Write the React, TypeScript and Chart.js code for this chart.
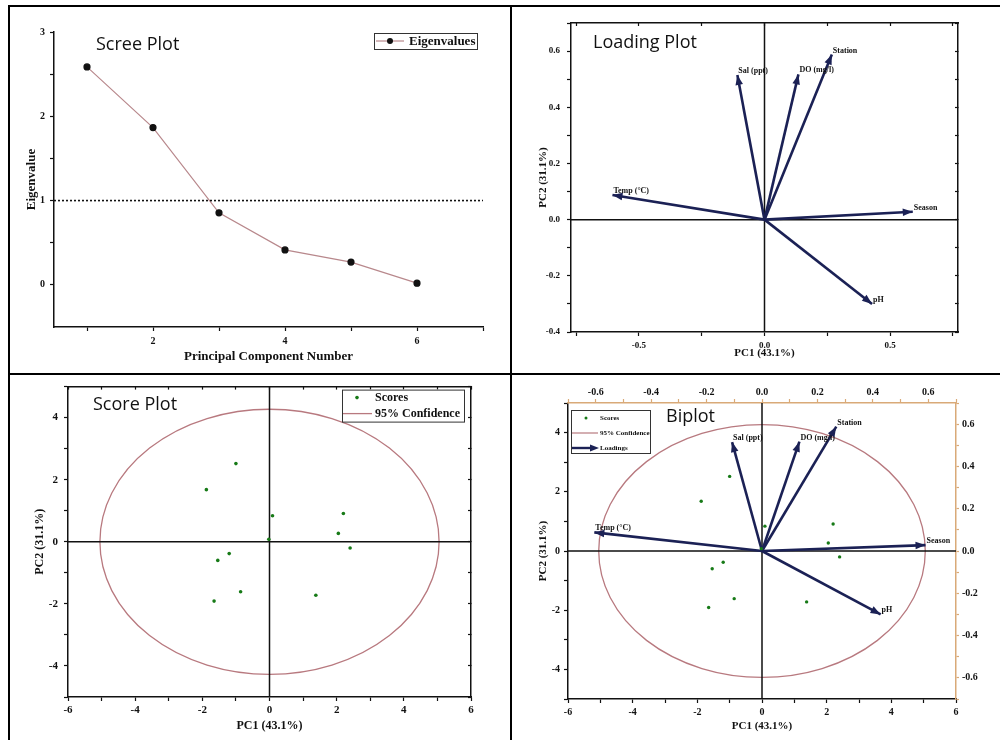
import React, { useEffect, useRef } from "react";
import { Chart, registerables } from "chart.js";

Chart.register(...registerables);

// ---------- PCA results ----------
const COMPONENTS = [1, 2, 3, 4, 5, 6];
const EIGENVALUES = [2.586, 1.866, 0.855, 0.415, 0.27, 0.02];
const KAISER_LEVEL = 1;

const VARIABLES = ["Temp (°C)", "Sal (ppt)", "DO (mg/l)", "Station", "Season", "pH"];
const LOADING_PC1 = [-0.605, -0.108, 0.135, 0.268, 0.59, 0.428];
const LOADING_PC2 = [0.088, 0.515, 0.517, 0.588, 0.028, -0.3];

const SCORE_PC1 = [-1.0, -1.88, 0.09, 2.2, 2.05, 2.4, -1.2, -1.54, -0.86, -1.65, 1.38, -0.02];
const SCORE_PC2 = [2.52, 1.68, 0.84, 0.91, 0.27, -0.2, -0.38, -0.6, -1.61, -1.91, -1.72, 0.08];

// 95% confidence ellipse of the scores (centre and semi-axes, score units)
const ELLIPSE_CENTER = [0, 0];
const ELLIPSE_RADII = [5.05, 4.27];

const PC1_TITLE = "PC1 (43.1%)";
const PC2_TITLE = "PC2 (31.1%)";

// ---------- axis ranges and ticks ----------
const SCREE_X_RANGE = [0.5, 7];
const SCREE_Y_RANGE = [-0.5, 3];
const SCREE_X_TICKS = [1, 2, 3, 4, 5, 6, 7];
const SCREE_X_LABELS = [2, 4, 6];
const SCREE_Y_TICKS = [0, 0.5, 1, 1.5, 2, 2.5, 3];
const SCREE_Y_LABELS = [0, 1, 2, 3];

const LOAD_X_RANGE = [-0.77, 0.77];
const LOAD_Y_RANGE = [-0.4, 0.7];
const LOAD_X_TICKS = [-0.75, -0.5, -0.25, 0, 0.25, 0.5, 0.75];
const LOAD_X_LABELS = [-0.5, 0, 0.5];
const LOAD_Y_TICKS = [-0.4, -0.3, -0.2, -0.1, 0, 0.1, 0.2, 0.3, 0.4, 0.5, 0.6, 0.7];
const LOAD_Y_LABELS = [-0.4, -0.2, 0, 0.2, 0.4, 0.6];

const SCORE_X_RANGE = [-6, 6];
const SCORE_Y_RANGE = [-5, 5];
const SCORE_X_TICKS = [-6, -5, -4, -3, -2, -1, 0, 1, 2, 3, 4, 5, 6];
const SCORE_X_LABELS = [-6, -4, -2, 0, 2, 4, 6];
const SCORE_Y_TICKS = [-5, -4, -3, -2, -1, 0, 1, 2, 3, 4, 5];
const SCORE_Y_LABELS = [-4, -2, 0, 2, 4];

const BI_LOAD_RANGE = [-0.7, 0.7];
const BI_LOAD_TICKS = [-0.7, -0.6, -0.5, -0.4, -0.3, -0.2, -0.1, 0, 0.1, 0.2, 0.3, 0.4, 0.5, 0.6, 0.7];
const BI_LOAD_LABELS = [-0.6, -0.4, -0.2, 0, 0.2, 0.4, 0.6];

// ---------- styling ----------
const SERIF = '"Liberation Serif", "Times New Roman", serif';
const SANS = '"Open Sans", sans-serif';
const INK = "#111111";
const ARROW = "#1b2155";
const SCREE_LINE = "#b8888c";
const ELLIPSE = "#b8797f";
const DOT = "#177a17";
const SECONDARY = "#d9aa78";

type Box = { x: number; y: number; w: number; h: number };
type Area = { l: number; t: number; r: number; b: number };
type Panel = { canvas: Box; area: Area; yTitleX: number; xTitleY: number };

const PANELS: Record<string, Panel> = {
  scree: { canvas: { x: 0, y: 0, w: 511, h: 374 }, area: { l: 54, t: 32, r: 483, b: 327 }, yTitleX: 32, xTitleY: 357 },
  loading: { canvas: { x: 511, y: 0, w: 489, h: 374 }, area: { l: 571, t: 23, r: 958, b: 332 }, yTitleX: 543, xTitleY: 353 },
  score: { canvas: { x: 0, y: 374, w: 511, h: 366 }, area: { l: 68, t: 384, r: 471, b: 697 }, yTitleX: 40, xTitleY: 726 },
  biplot: { canvas: { x: 511, y: 374, w: 489, h: 366 }, area: { l: 568, t: 403, r: 956, b: 699 }, yTitleX: 543, xTitleY: 726 },
};

// Works out layout padding and axis box sizes so the plot area and axis titles land where wanted.
function layoutFor(p: Panel, titleSize: number, topSize = 0, rightSize = 0) {
  const lh = titleSize * 1.2;
  const left = p.yTitleX - p.canvas.x - lh / 2;
  const yWidth = p.area.l - p.canvas.x - left;
  const bottom = p.canvas.y + p.canvas.h - p.xTitleY - lh / 2;
  const xHeight = p.canvas.y + p.canvas.h - bottom - p.area.b;
  const top = p.area.t - p.canvas.y - topSize;
  const right = p.canvas.x + p.canvas.w - p.area.r - rightSize;
  return { padding: { left, right, top, bottom }, yWidth, xHeight, topSize, rightSize };
}

type AxisSpec = {
  position: "left" | "right" | "top" | "bottom";
  range: number[];
  ticks: number[];
  labels?: number[];
  decimals?: number;
  size: number;
  font?: number;
  pad?: number;
  len?: number;
  inward?: boolean;
  title?: string;
  titleSize?: number;
  color?: string;
};

function axis(s: AxisSpec): any {
  const horizontal = s.position === "top" || s.position === "bottom";
  const color = s.color ?? INK;
  const labels = s.labels ?? [];
  const isLabeled = (v: number) => labels.some((l) => Math.abs(l - v) < 1e-6);
  const len = s.len ?? 4;
  return {
    type: "linear",
    position: s.position,
    min: s.range[0],
    max: s.range[1],
    afterBuildTicks: (scale: any) => {
      scale.ticks = s.ticks.map((value) => ({ value }));
    },
    afterFit: (scale: any) => {
      if (horizontal) scale.height = s.size;
      else scale.width = s.size;
    },
    border: { display: true, color, width: 1.5 },
    grid: {
      display: true,
      drawOnChartArea: false,
      drawTicks: true,
      tickLength: s.inward ? -len : len,
      tickWidth: 1.2,
      tickColor: color,
      color,
    },
    ticks: {
      display: labels.length > 0,
      autoSkip: false,
      maxRotation: 0,
      minRotation: 0,
      padding: s.pad ?? 4,
      color: INK,
      font: { family: SERIF, size: s.font ?? 10, weight: "bold" },
      callback: (v: number) => (isLabeled(v) ? Number(v).toFixed(s.decimals ?? 0) : ""),
    },
    title: s.title
      ? {
          display: true,
          text: s.title,
          color: INK,
          padding: 0,
          font: { family: SERIF, size: s.titleSize ?? 12, weight: "bold" },
        }
      : { display: false },
  };
}

// ---------- drawing helpers ----------
function drawPanelTitle(chart: any, text: string, dx: number, dy: number) {
  const { ctx, chartArea } = chart;
  ctx.save();
  ctx.font = `18px ${SANS}`;
  ctx.fillStyle = INK;
  ctx.textAlign = "left";
  ctx.textBaseline = "middle";
  ctx.fillText(text, chartArea.left + dx, chartArea.top + dy);
  ctx.restore();
}

function drawCrosshair(chart: any, xId: string, yId: string) {
  const { ctx, chartArea: a } = chart;
  const px = chart.scales[xId].getPixelForValue(0);
  const py = chart.scales[yId].getPixelForValue(0);
  ctx.save();
  ctx.strokeStyle = INK;
  ctx.lineWidth = 1.5;
  ctx.beginPath();
  ctx.moveTo(px, a.top);
  ctx.lineTo(px, a.bottom);
  ctx.moveTo(a.left, py);
  ctx.lineTo(a.right, py);
  ctx.stroke();
  ctx.restore();
}

function drawEllipse(chart: any) {
  const { ctx } = chart;
  const xs = chart.scales.x;
  const ys = chart.scales.y;
  const cx = xs.getPixelForValue(ELLIPSE_CENTER[0]);
  const cy = ys.getPixelForValue(ELLIPSE_CENTER[1]);
  const rx = Math.abs(xs.getPixelForValue(ELLIPSE_CENTER[0] + ELLIPSE_RADII[0]) - cx);
  const ry = Math.abs(ys.getPixelForValue(ELLIPSE_CENTER[1] + ELLIPSE_RADII[1]) - cy);
  ctx.save();
  ctx.strokeStyle = ELLIPSE;
  ctx.lineWidth = 1.3;
  ctx.beginPath();
  ctx.ellipse(cx, cy, rx, ry, 0, 0, Math.PI * 2);
  ctx.stroke();
  ctx.restore();
}

function arrowHead(ctx: any, fromX: number, fromY: number, toX: number, toY: number, len: number, half: number) {
  const ang = Math.atan2(toY - fromY, toX - fromX);
  const bx = toX - Math.cos(ang) * len;
  const by = toY - Math.sin(ang) * len;
  ctx.beginPath();
  ctx.moveTo(toX, toY);
  ctx.lineTo(bx + Math.sin(ang) * half, by - Math.cos(ang) * half);
  ctx.lineTo(bx - Math.sin(ang) * half, by + Math.cos(ang) * half);
  ctx.closePath();
  ctx.fill();
}

// Arrowheads and variable names at the tips of the loading vectors
function drawLoadingTips(chart: any, firstDataset: number) {
  const { ctx } = chart;
  ctx.save();
  ctx.fillStyle = ARROW;
  VARIABLES.forEach((name, i) => {
    const meta = chart.getDatasetMeta(firstDataset + i);
    const [o, t] = meta.data as any[];
    arrowHead(ctx, o.x, o.y, t.x, t.y, 10, 3.8);
    ctx.save();
    ctx.fillStyle = INK;
    ctx.font = `bold 8px ${SERIF}`;
    ctx.textAlign = "left";
    ctx.textBaseline = "middle";
    ctx.fillText(name, t.x + 1, t.y - 4);
    ctx.restore();
  });
  ctx.restore();
}

function legendBox(ctx: any, x: number, y: number, w: number, h: number) {
  ctx.save();
  ctx.strokeStyle = "#333333";
  ctx.lineWidth = 1;
  ctx.fillStyle = "#ffffff";
  ctx.fillRect(x, y, w, h);
  ctx.strokeRect(x + 0.5, y + 0.5, w, h);
  ctx.restore();
}

function legendText(ctx: any, text: string, x: number, y: number, size: number) {
  ctx.save();
  ctx.fillStyle = INK;
  ctx.font = `bold ${size}px ${SERIF}`;
  ctx.textAlign = "left";
  ctx.textBaseline = "middle";
  ctx.fillText(text, x, y);
  ctx.restore();
}

const baseOptions = (padding: any) => ({
  animation: false,
  responsive: false,
  events: [],
  layout: { padding },
  plugins: { legend: { display: false }, tooltip: { enabled: false } },
});

// ---------- the four charts ----------
function buildScree(canvas: HTMLCanvasElement) {
  const L = layoutFor(PANELS.scree, 13);
  return new Chart(canvas, {
    type: "scatter",
    data: {
      datasets: [
        {
          data: [
            { x: SCREE_X_RANGE[0], y: KAISER_LEVEL },
            { x: SCREE_X_RANGE[1], y: KAISER_LEVEL },
          ],
          showLine: true,
          borderColor: INK,
          borderWidth: 1.6,
          borderDash: [2, 2],
          pointRadius: 0,
        },
        {
          label: "Eigenvalues",
          data: COMPONENTS.map((c, i) => ({ x: c, y: EIGENVALUES[i] })),
          showLine: true,
          borderColor: SCREE_LINE,
          borderWidth: 1.2,
          pointRadius: 3,
          pointBackgroundColor: INK,
          pointBorderColor: INK,
        },
      ],
    } as any,
    options: {
      ...baseOptions(L.padding),
      scales: {
        x: axis({ position: "bottom", range: SCREE_X_RANGE, ticks: SCREE_X_TICKS, labels: SCREE_X_LABELS, size: L.xHeight, font: 10, pad: 4, title: "Principal Component Number", titleSize: 13 }),
        y: axis({ position: "left", range: SCREE_Y_RANGE, ticks: SCREE_Y_TICKS, labels: SCREE_Y_LABELS, size: L.yWidth, font: 10, pad: 5, title: "Eigenvalue", titleSize: 13 }),
      },
    } as any,
    plugins: [
      {
        id: "screeDecor",
        afterDatasetsDraw(chart: any) {
          const { ctx, chartArea: a } = chart;
          drawPanelTitle(chart, "Scree Plot", 42, 13);
          const bx = a.left + 320;
          const by = a.top + 1;
          legendBox(ctx, bx, by, 103, 16);
          ctx.save();
          ctx.strokeStyle = SCREE_LINE;
          ctx.lineWidth = 1.2;
          ctx.beginPath();
          ctx.moveTo(bx + 2, by + 8);
          ctx.lineTo(bx + 30, by + 8);
          ctx.stroke();
          ctx.fillStyle = INK;
          ctx.beginPath();
          ctx.arc(bx + 16, by + 8, 3, 0, Math.PI * 2);
          ctx.fill();
          ctx.restore();
          legendText(ctx, "Eigenvalues", bx + 35, by + 8.5, 13);
        },
      },
    ],
  });
}

function buildLoading(canvas: HTMLCanvasElement) {
  const L = layoutFor(PANELS.loading, 11);
  return new Chart(canvas, {
    type: "scatter",
    data: {
      datasets: VARIABLES.map((name, i) => ({
        label: name,
        data: [
          { x: 0, y: 0 },
          { x: LOADING_PC1[i], y: LOADING_PC2[i] },
        ],
        showLine: true,
        borderColor: ARROW,
        borderWidth: 2.6,
        pointRadius: 0,
      })),
    } as any,
    options: {
      ...baseOptions(L.padding),
      scales: {
        x: axis({ position: "bottom", range: LOAD_X_RANGE, ticks: LOAD_X_TICKS, labels: LOAD_X_LABELS, decimals: 1, size: L.xHeight, font: 9, pad: 4, title: PC1_TITLE, titleSize: 11 }),
        y: axis({ position: "left", range: LOAD_Y_RANGE, ticks: LOAD_Y_TICKS, labels: LOAD_Y_LABELS, decimals: 1, size: L.yWidth, font: 9, pad: 7, title: PC2_TITLE, titleSize: 11 }),
        x2: axis({ position: "top", range: LOAD_X_RANGE, ticks: LOAD_X_TICKS, size: 0, inward: true, len: 3 }),
        y2: axis({ position: "right", range: LOAD_Y_RANGE, ticks: LOAD_Y_TICKS, size: 0, inward: true, len: 3 }),
      },
    } as any,
    plugins: [
      {
        id: "loadingDecor",
        beforeDatasetsDraw(chart: any) {
          drawCrosshair(chart, "x", "y");
        },
        afterDatasetsDraw(chart: any) {
          drawLoadingTips(chart, 0);
          drawPanelTitle(chart, "Loading Plot", 22, 20);
        },
      },
    ],
  });
}

function buildScore(canvas: HTMLCanvasElement) {
  const L = layoutFor(PANELS.score, 12);
  return new Chart(canvas, {
    type: "scatter",
    data: {
      datasets: [
        {
          label: "Scores",
          data: SCORE_PC1.map((x, i) => ({ x, y: SCORE_PC2[i] })),
          pointRadius: 1.8,
          pointBackgroundColor: DOT,
          pointBorderColor: DOT,
          pointBorderWidth: 0,
        },
      ],
    } as any,
    options: {
      ...baseOptions(L.padding),
      scales: {
        x: axis({ position: "bottom", range: SCORE_X_RANGE, ticks: SCORE_X_TICKS, labels: SCORE_X_LABELS, size: L.xHeight, font: 11, pad: 3, title: PC1_TITLE, titleSize: 12 }),
        y: axis({ position: "left", range: SCORE_Y_RANGE, ticks: SCORE_Y_TICKS, labels: SCORE_Y_LABELS, size: L.yWidth, font: 11, pad: 6, title: PC2_TITLE, titleSize: 12 }),
        x2: axis({ position: "top", range: SCORE_X_RANGE, ticks: SCORE_X_TICKS, size: 0, inward: true, len: 3 }),
        y2: axis({ position: "right", range: SCORE_Y_RANGE, ticks: SCORE_Y_TICKS, size: 0, inward: true, len: 3 }),
      },
    } as any,
    plugins: [
      {
        id: "scoreDecor",
        beforeDatasetsDraw(chart: any) {
          drawEllipse(chart);
          drawCrosshair(chart, "x", "y");
        },
        afterDatasetsDraw(chart: any) {
          const { ctx, chartArea: a } = chart;
          drawPanelTitle(chart, "Score Plot", 25, 18);
          const bx = a.left + 274;
          const by = a.top + 3;
          legendBox(ctx, bx, by, 122, 32);
          ctx.save();
          ctx.fillStyle = DOT;
          ctx.beginPath();
          ctx.arc(bx + 15, by + 8, 1.8, 0, Math.PI * 2);
          ctx.fill();
          ctx.strokeStyle = ELLIPSE;
          ctx.lineWidth = 1.3;
          ctx.beginPath();
          ctx.moveTo(bx + 1, by + 24);
          ctx.lineTo(bx + 30, by + 24);
          ctx.stroke();
          ctx.restore();
          legendText(ctx, "Scores", bx + 33, by + 8, 12);
          legendText(ctx, "95% Confidence", bx + 33, by + 24, 12);
        },
      },
    ],
  });
}

function buildBiplot(canvas: HTMLCanvasElement) {
  const p = PANELS.biplot;
  const L = layoutFor(p, 11, p.area.t - p.canvas.y, p.canvas.x + p.canvas.w - p.area.r);
  return new Chart(canvas, {
    type: "scatter",
    data: {
      datasets: [
        {
          label: "Scores",
          data: SCORE_PC1.map((x, i) => ({ x, y: SCORE_PC2[i] })),
          pointRadius: 1.7,
          pointBackgroundColor: DOT,
          pointBorderColor: DOT,
          pointBorderWidth: 0,
        },
        ...VARIABLES.map((name, i) => ({
          label: name,
          xAxisID: "x2",
          yAxisID: "y2",
          data: [
            { x: 0, y: 0 },
            { x: LOADING_PC1[i], y: LOADING_PC2[i] },
          ],
          showLine: true,
          borderColor: ARROW,
          borderWidth: 2.6,
          pointRadius: 0,
        })),
      ],
    } as any,
    options: {
      ...baseOptions(L.padding),
      scales: {
        x: axis({ position: "bottom", range: SCORE_X_RANGE, ticks: SCORE_X_TICKS, labels: SCORE_X_LABELS, size: L.xHeight, font: 10, pad: 3, title: PC1_TITLE, titleSize: 11 }),
        y: axis({ position: "left", range: SCORE_Y_RANGE, ticks: SCORE_Y_TICKS, labels: SCORE_Y_LABELS, size: L.yWidth, font: 10, pad: 4, title: PC2_TITLE, titleSize: 11 }),
        x2: axis({ position: "top", range: BI_LOAD_RANGE, ticks: BI_LOAD_TICKS, labels: BI_LOAD_LABELS, decimals: 1, size: L.topSize, font: 10, pad: 1, len: 4, color: SECONDARY }),
        y2: axis({ position: "right", range: BI_LOAD_RANGE, ticks: BI_LOAD_TICKS, labels: BI_LOAD_LABELS, decimals: 1, size: L.rightSize, font: 10, pad: 3, len: 3, color: SECONDARY }),
      },
    } as any,
    plugins: [
      {
        id: "biplotDecor",
        beforeDatasetsDraw(chart: any) {
          drawEllipse(chart);
          drawCrosshair(chart, "x", "y");
        },
        afterDatasetsDraw(chart: any) {
          const { ctx, chartArea: a } = chart;
          drawLoadingTips(chart, 1);
          drawPanelTitle(chart, "Biplot", 98, 14);
          const bx = a.left + 3;
          const by = a.top + 7;
          legendBox(ctx, bx, by, 79, 43);
          ctx.save();
          ctx.fillStyle = DOT;
          ctx.beginPath();
          ctx.arc(bx + 15, by + 8, 1.5, 0, Math.PI * 2);
          ctx.fill();
          ctx.strokeStyle = ELLIPSE;
          ctx.lineWidth = 1.2;
          ctx.beginPath();
          ctx.moveTo(bx + 1, by + 23);
          ctx.lineTo(bx + 27, by + 23);
          ctx.stroke();
          ctx.strokeStyle = ARROW;
          ctx.fillStyle = ARROW;
          ctx.lineWidth = 2.4;
          ctx.beginPath();
          ctx.moveTo(bx + 1, by + 38);
          ctx.lineTo(bx + 22, by + 38);
          ctx.stroke();
          arrowHead(ctx, bx + 1, by + 38, bx + 28, by + 38, 9, 3.5);
          ctx.restore();
          legendText(ctx, "Scores", bx + 29, by + 8, 7);
          legendText(ctx, "95% Confidence", bx + 29, by + 23, 7);
          legendText(ctx, "Loadings", bx + 29, by + 38, 7);
        },
      },
    ],
  });
}

function ChartCanvas({ box, build }: { box: Box; build: (c: HTMLCanvasElement) => Chart }) {
  const ref = useRef<HTMLCanvasElement>(null);
  useEffect(() => {
    const chart = build(ref.current as HTMLCanvasElement);
    return () => chart.destroy();
  }, [build]);
  return (
    <canvas
      ref={ref}
      width={box.w}
      height={box.h}
      style={{ position: "absolute", left: box.x, top: box.y, width: box.w, height: box.h }}
    />
  );
}

const rule = (left: number, top: number, width: number, height: number) => (
  <div style={{ position: "absolute", left, top, width, height, background: "#000" }} />
);

export default function App() {
  return (
    <div style={{ position: "absolute", left: 0, top: 0, width: 1000, height: 740, background: "#fff", overflow: "hidden" }}>
      <ChartCanvas box={PANELS.scree.canvas} build={buildScree} />
      <ChartCanvas box={PANELS.loading.canvas} build={buildLoading} />
      <ChartCanvas box={PANELS.score.canvas} build={buildScore} />
      <ChartCanvas box={PANELS.biplot.canvas} build={buildBiplot} />
      {rule(8, 5, 992, 2)}
      {rule(8, 5, 2, 735)}
      {rule(510, 5, 2, 735)}
      {rule(8, 373, 992, 2)}
    </div>
  );
}
